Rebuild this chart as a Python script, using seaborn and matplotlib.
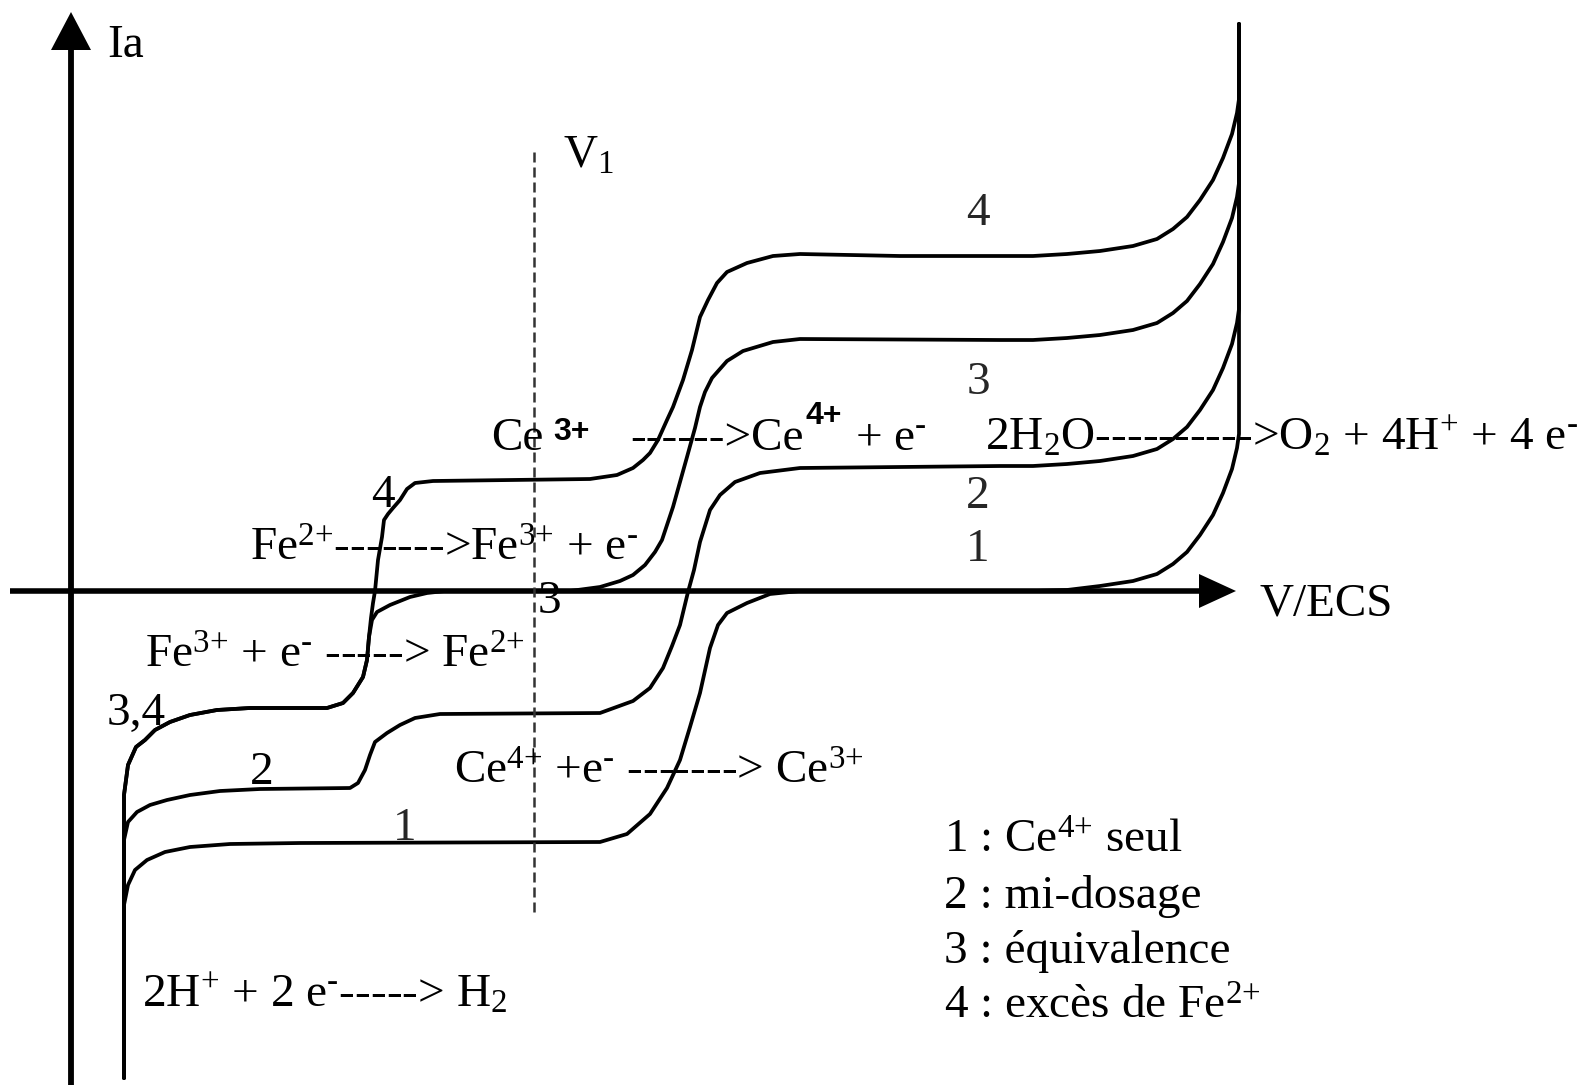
import pandas as pd
import matplotlib
matplotlib.use("Agg")
import matplotlib.pyplot as plt
import seaborn as sns

sns.set_theme(style="white")
plt.rcParams["font.family"] = ["Liberation Serif", "DejaVu Serif"]
plt.rcParams["mathtext.fontset"] = "custom"
plt.rcParams["mathtext.rm"] = "Liberation Serif"
plt.rcParams["mathtext.it"] = "Liberation Serif:italic"
plt.rcParams["mathtext.bf"] = "Liberation Serif:bold"

# ---- intensity-potential curves (E in arbitrary potential units, I in arbitrary current units)
# curve 1 : Ce4+ alone
c1_E = [0.53, 0.53, 0.57, 0.64, 0.76, 0.94, 1.19, 1.59, 2.29, 5.29, 5.56, 5.79, 5.96, 6.09,
        6.19, 6.29, 6.39, 6.47, 6.56, 6.76, 6.99, 7.29, 9.29, 9.62, 9.96, 10.29, 10.62,
        10.86, 11.02, 11.16, 11.29, 11.42, 11.52, 11.61, 11.66, 11.68, 11.68]
c1_I = [-4.87, -3.14, -2.94, -2.79, -2.69, -2.61, -2.56, -2.53, -2.52, -2.51, -2.43, -2.23,
        -1.97, -1.69, -1.36, -1.02, -0.57, -0.34, -0.22, -0.12, -0.03, 0.00, 0.00, 0.00,
        0.01, 0.05, 0.10, 0.17, 0.27, 0.39, 0.56, 0.76, 0.98, 1.22, 1.43, 1.57, 5.67]

# curve 2 : half titration
c2_E = [0.53, 0.53, 0.57, 0.66, 0.79, 0.96, 1.19, 1.49, 1.89, 2.79, 2.87, 2.94, 2.99, 3.04,
        3.16, 3.29, 3.44, 3.69, 5.29, 5.62, 5.79, 5.92, 6.01, 6.09, 6.17, 6.23, 6.29, 6.39,
        6.49, 6.64, 6.89, 7.29, 9.29, 9.62, 9.96, 10.29, 10.62, 10.86, 11.02, 11.16, 11.29,
        11.42, 11.52, 11.61, 11.66, 11.68, 11.68]
c2_I = [-4.87, -2.49, -2.31, -2.21, -2.14, -2.09, -2.04, -2.00, -1.98, -1.97, -1.92, -1.79,
        -1.64, -1.51, -1.42, -1.34, -1.27, -1.23, -1.22, -1.10, -0.97, -0.77, -0.55, -0.34,
        -0.01, 0.21, 0.49, 0.81, 0.96, 1.09, 1.18, 1.23, 1.25, 1.25, 1.27, 1.30, 1.35, 1.42,
        1.52, 1.64, 1.81, 2.01, 2.23, 2.47, 2.68, 2.82, 5.67]

# cathodic branch shared by curves 3 and 4 (Fe3+ reduction wave)
c34_E = [0.53, 0.53, 0.57, 0.65, 0.74, 0.84, 0.99, 1.19, 1.46, 1.79, 2.56, 2.72, 2.82,
         2.92, 2.96, 2.98]
c34_I = [-4.87, -2.04, -1.74, -1.56, -1.49, -1.39, -1.31, -1.24, -1.19, -1.17, -1.17, -1.12,
         -1.02, -0.86, -0.69, -0.46]

# curve 3 : equivalence point
c3_E = [3.01, 3.06, 3.19, 3.39, 3.56, 3.74, 4.99, 5.14, 5.29, 5.49, 5.62, 5.74, 5.84, 5.91,
        5.97, 6.02, 6.09, 6.16, 6.24, 6.29, 6.34, 6.41, 6.56, 6.72, 7.02, 7.29, 9.29, 9.62,
        9.96, 10.29, 10.62, 10.86, 11.02, 11.16, 11.29, 11.42, 11.52, 11.61, 11.66, 11.68,
        11.68]
c3_I = [-0.29, -0.21, -0.14, -0.06, -0.02, 0.00, 0.00, 0.02, 0.04, 0.10, 0.16, 0.26, 0.39,
        0.51, 0.69, 0.84, 1.09, 1.34, 1.63, 1.84, 1.99, 2.13, 2.30, 2.40, 2.49, 2.52, 2.51,
        2.51, 2.53, 2.56, 2.61, 2.68, 2.78, 2.90, 3.07, 3.27, 3.49, 3.73, 3.94, 4.08, 5.67]

# curve 4 : excess of Fe2+
c4_E = [3.00, 3.02, 3.04, 3.07, 3.11, 3.13, 3.17, 3.22, 3.29, 3.36, 3.44, 3.62, 5.19, 5.46,
        5.62, 5.72, 5.79, 5.87, 5.96, 6.02, 6.12, 6.21, 6.29, 6.37, 6.46, 6.56, 6.76, 7.02,
        7.29, 8.29, 9.29, 9.62, 9.96, 10.29, 10.62, 10.86, 11.02, 11.16, 11.29, 11.42, 11.52,
        11.61, 11.66, 11.68, 11.68]
c4_I = [-0.27, -0.12, 0.00, 0.31, 0.54, 0.71, 0.77, 0.83, 0.91, 1.02, 1.08, 1.10, 1.12, 1.16,
        1.23, 1.31, 1.38, 1.51, 1.71, 1.84, 2.11, 2.41, 2.74, 2.91, 3.08, 3.19, 3.28, 3.35,
        3.37, 3.35, 3.35, 3.35, 3.37, 3.40, 3.45, 3.52, 3.62, 3.74, 3.91, 4.11, 4.33, 4.57,
        4.78, 4.92, 5.67]

# vertical marker V1
v1_E = 4.63
v1_I = [4.39, -3.23]

curves = {
    "1": (c1_E, c1_I),
    "2": (c2_E, c2_I),
    "3": (c34_E + c3_E, c34_I + c3_I),
    "4": (c34_E + c4_E, c34_I + c4_I),
}
rows = []
for name, (es, ics) in curves.items():
    for k, (e, i) in enumerate(zip(es, ics)):
        rows.append({"courbe": name, "ordre": k, "E": e, "I": i})
df = pd.DataFrame(rows)

fig = plt.figure(figsize=(15.92, 10.85), dpi=100)
ax = fig.add_axes([0, 0, 1, 1])
ax.set_xlim(-0.71, 15.21)
ax.set_ylim(-4.94, 5.91)
ax.axis("off")

sns.lineplot(data=df, x="E", y="I", units="courbe", estimator=None, sort=False,
             color="black", lw=2.7, legend=False, ax=ax)

# axes with arrow heads
ax.plot([0, 0], [-4.94, 5.45], color="black", lw=4.2, solid_capstyle="butt")
ax.fill([-0.20, 0.20, 0.0], [5.41, 5.41, 5.79], color="black", lw=0)
ax.plot([-0.61, 11.30], [0, 0], color="black", lw=4.0, solid_capstyle="butt")
ax.fill([11.28, 11.28, 11.65], [-0.17, 0.17, 0.0], color="black", lw=0)

ax.plot([v1_E, v1_E], v1_I, color="#333333", lw=1.8, linestyle=(0, (4, 2)))

FS = 34
SUP_P = r"$^{{+}}$"
EM = r"e$^{\text{-}}$"


def label(x, y, s, size=FS, **kw):
    ax.text(x, y, s, fontsize=size, ha="left", va="baseline", color="black", **kw)


def ion(sym, charge):
    return sym + r"$^{" + charge[:-1] + "{" + charge[-1] + "}}$"


label(0.36, 5.34, "Ia")
label(11.88, -0.25, "V/ECS")
label(4.92, 4.23, r"V$_{1}$")

# oxidation reactions
label(4.20, 1.41, "Ce")
label(4.82, 1.51, "3+", size=23, family="Liberation Sans", weight="bold")
label(5.59, 1.41, "------>Ce")
label(7.35, 1.67, "4+", size=23, family="Liberation Sans", weight="bold")
label(7.84, 1.41, "+ " + EM)
label(9.14, 1.41, r"2H$_{2}$O---------->O$_{2}$ + 4H" + SUP_P + " + 4 " + EM)
label(1.79, 0.30, ion("Fe", "2+") + "------->" + ion("Fe", "3+") + " + " + EM)

# reduction reactions
label(0.74, -0.77, ion("Fe", "3+") + " + " + EM + " -----> " + ion("Fe", "2+"))
label(3.83, -1.93, ion("Ce", "4+") + " +" + EM + " -------> " + ion("Ce", "3+"))
label(0.71, -4.16, "2H" + SUP_P + " + 2 " + EM + "-----> H$_{2}$")

# curve numbers
label(0.36, -1.34, "3,4")
label(3.00, 0.84, "4")
label(4.67, -0.22, "3")
label(1.79, -1.93, "2")
ax.text(3.34, -2.49, "1", fontsize=FS, ha="center", va="baseline")
for txt, y in zip(["4", "3", "2", "1"], [3.66, 1.97, 0.83, 0.30]):
    ax.text(9.07, y, txt, fontsize=FS, ha="center", va="baseline")

# key
legend_lines = ["1 : " + ion("Ce", "4+") + " seul", "2 : mi-dosage", "3 : équivalence",
                "4 : excès de " + ion("Fe", "2+")]
for txt, y in zip(legend_lines, [-2.62, -3.17, -3.72, -4.28]):
    label(8.73, y, txt)

fig.savefig("out.png", dpi=100, facecolor="white")
